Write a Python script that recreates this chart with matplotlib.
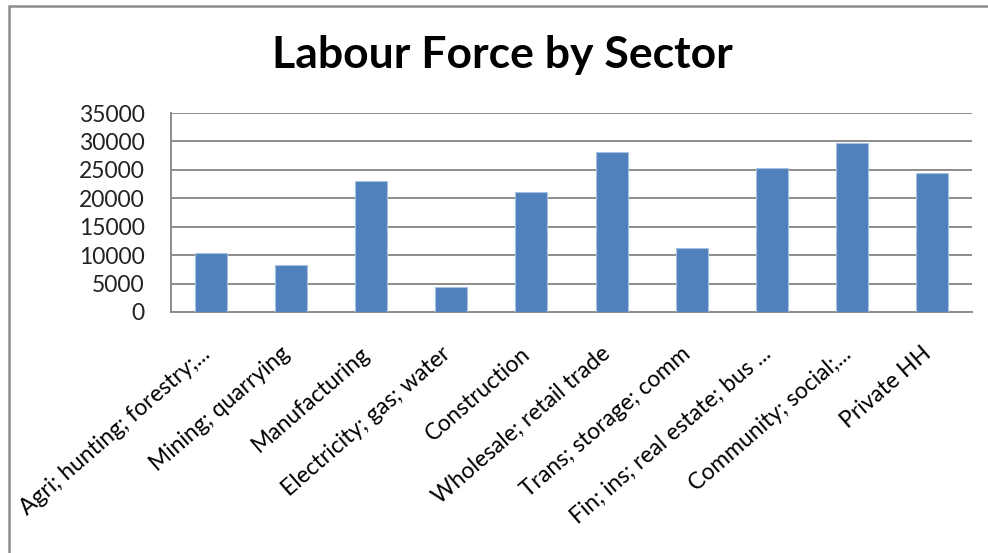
# bar chart of labour force by sector

import matplotlib
matplotlib.use("Agg")
from matplotlib import pyplot as plt
from matplotlib.patches import Rectangle
from matplotlib.transforms import ScaledTranslation

sectors = [
    "Agri; hunting; forestry;...",
    "Mining; quarrying",
    "Manufacturing",
    "Electricity; gas; water",
    "Construction",
    "Wholesale; retail trade",
    "Trans; storage; comm",
    "Fin; ins; real estate; bus ...",
    "Community; social;...",
    "Private HH",
]
workers = [10300, 8250, 23000, 4400, 21050, 28100, 11200, 25400, 29700, 24500]
y_ticks = [0, 5000, 10000, 15000, 20000, 25000, 30000, 35000]

plt.rcParams['font.family'] = ['Lato', 'DejaVu Sans']

fig = plt.figure(figsize=(9.88, 5.53), dpi=100)

# grey chart frame, runs off the right and bottom edges
fig.patches.append(Rectangle((9 / 988, -0.2), 1.1, 1.2 - 5.5 / 553,
                             transform=fig.transFigure, fill=False,
                             edgecolor="#8c8c8c", linewidth=1.8))

ax = fig.add_axes([171 / 988, 1 - 312 / 553, 801 / 988, 199 / 553])
x = range(len(sectors))
ax.bar(x, workers, width=0.4, color="#4f81bd", edgecolor="#a8c0e0", linewidth=0.8, zorder=3)

ax.set_xlim(-0.5, len(sectors) - 0.5)
ax.set_ylim(0, 35000)
ax.set_yticks(y_ticks)
ax.set_yticklabels([str(v) for v in y_ticks], fontsize=16.5, color="#222222")
ax.yaxis.grid(True, color="#8c8c8c", linewidth=1.4, zorder=0)
ax.set_xticks(list(x))
ax.set_xticklabels(sectors, rotation=41, ha="right", va="center",
                   rotation_mode="anchor", fontsize=16.5)
ax.tick_params(axis="both", length=0)
ax.tick_params(axis="x", pad=28)
ax.tick_params(axis="y", pad=19)

# nudge the slanted labels a little left
shift = ScaledTranslation(-4 / 100, 0, fig.dpi_scale_trans)
for lab in ax.get_xticklabels():
    lab.set_transform(lab.get_transform() + shift)

for side in ["top", "right"]:
    ax.spines[side].set_visible(False)
for side in ["left", "bottom"]:
    ax.spines[side].set_color("#8c8c8c")
    ax.spines[side].set_linewidth(1.4)

fig.text(0.508, 1 - 55 / 553, "Labour Force by Sector", ha="center", va="center",
         fontsize=32, fontweight="bold")

fig.savefig("out.png", dpi=100)
